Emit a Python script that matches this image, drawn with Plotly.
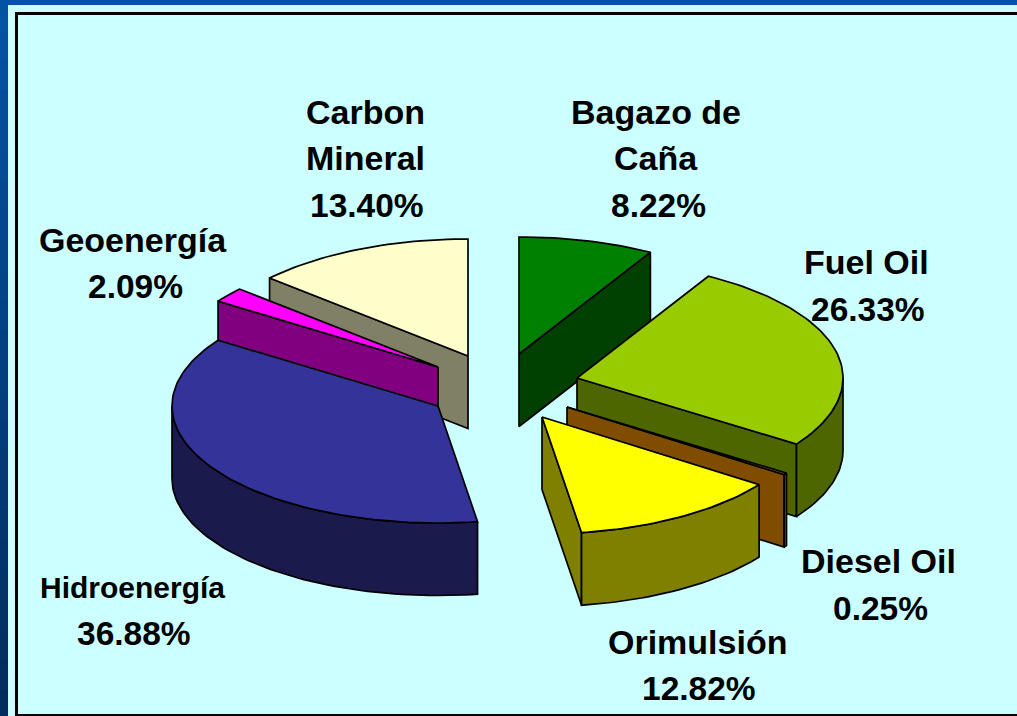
import math
import plotly.graph_objects as go

# ---- data ----
categories = ["Bagazo de Caña", "Fuel Oil", "Diesel Oil", "Orimulsión",
              "Hidroenergía", "Geoenergía", "Carbon Mineral"]
shares = [8.22, 26.33, 0.25, 12.82, 36.88, 2.09, 13.40]

# ---- styling / layout (not data) ----
top_colors = ["#008000", "#99CC00", "#FF9900", "#FFFF00", "#333399", "#FF00FF", "#FFFFCC"]
wall_colors = ["#004000", "#4D6600", "#804D00", "#808000", "#1A1A4D", "#800080", "#808066"]
apex_x = [519, 577, 567, 542, 438, 438, 468]
apex_y = [354, 378, 407, 417, 406, 367, 356]
draw_order = [0, 6, 1, 5, 4, 2, 3]
RX, RY, DEPTH = 266, 117, 72.5
LINE_W = 1.7
NAME_SIZES = [34, 34, 34, 34, 30, 34, 34]
PCT_SIZE = 33.5

label_lines = [
    (["Bagazo de", "Caña"], [(656, 112), (656, 158)], (658, 205)),
    (["Fuel Oil"], [(866, 262)], (868, 309)),
    (["Diesel Oil"], [(878, 561)], (880, 608)),
    (["Orimulsión"], [(697, 642)], (699, 688)),
    (["Hidroenergía"], [(132, 587)], (134, 633)),
    (["Geoenergía"], [(133, 240)], (135, 286)),
    (["Carbon", "Mineral"], [(365, 112), (365, 158)], (367, 205)),
]

total = sum(shares)
edges = [0.0]
for v in shares:
    edges.append(edges[-1] + v / total * 360.0)


def arc(cx, cy, a0, a1, dz=0):
    n = max(2, int(abs(a1 - a0) / 1.5) + 2)
    xs, ys = [], []
    for i in range(n):
        a = math.radians(a0 + (a1 - a0) * i / (n - 1))
        xs.append(cx + RX * math.sin(a))
        ys.append(cy - RY * math.cos(a) + dz)
    return xs, ys


fig = go.Figure()


def poly(xs, ys, color):
    fig.add_trace(go.Scatter(
        x=xs + xs[:1], y=ys + ys[:1], mode="lines", fill="toself",
        fillcolor=color, line=dict(color="#000000", width=LINE_W),
        hoverinfo="skip", showlegend=False))


def cut_wall(cx, cy, a, color):
    ex, ey = arc(cx, cy, a, a)
    poly([cx, ex[0], ex[0], cx], [cy, ey[0], ey[0] + DEPTH, cy + DEPTH], color)


for i in draw_order:
    cx, cy = apex_x[i], apex_y[i]
    a0, a1 = edges[i], edges[i + 1]
    # cut faces that look towards the viewer
    if math.cos(math.radians(a0 - 90)) < -1e-6:
        cut_wall(cx, cy, a0, wall_colors[i])
    if math.cos(math.radians(a1 + 90)) < -1e-6:
        cut_wall(cx, cy, a1, wall_colors[i])
    # rim
    w0, w1 = max(a0, 90), min(a1, 270)
    if w1 > w0:
        xs, ys = arc(cx, cy, w0, w1)
        xb, yb = arc(cx, cy, w0, w1, DEPTH)
        poly(xs + xb[::-1], ys + yb[::-1], wall_colors[i])
    # top
    xs, ys = arc(cx, cy, a0, a1)
    poly([cx] + xs, [cy] + ys, top_colors[i])

# labels
for i, (lines, pos, pct) in enumerate(label_lines):
    items = [(t, p, NAME_SIZES[i]) for t, p in zip(lines, pos)] + [(f"{shares[i]:.2f}%", pct, PCT_SIZE)]
    for txt, (x, y), size in items:
        fig.add_annotation(x=x, y=y, text=f"<b>{txt}</b>", showarrow=False,
                           xanchor="center", yanchor="middle",
                           font=dict(family="Liberation Sans", size=size, color="#000000"))

# slide background
shapes = [
    dict(type="rect", x0=0, x1=1017, y0=0, y1=716, fillcolor="#CCFFFF", line_width=0, layer="below"),
    dict(type="rect", x0=0, x1=1017, y0=0, y1=5, fillcolor="#0352A3", line_width=0, layer="below"),
]
n_bands = 24
c0, c1 = (3, 83, 164), (3, 44, 92)
for k in range(n_bands):
    t = k / (n_bands - 1)
    col = "rgb(%d,%d,%d)" % tuple(round(c0[j] + (c1[j] - c0[j]) * t) for j in range(3))
    shapes.append(dict(type="rect", x0=0, x1=8, y0=30 * k, y1=716,
                       fillcolor=col, line_width=0, layer="below"))
for s in [(15, 18, 12, 716), (15, 1017, 12, 15), (15, 1017, 714, 716)]:
    shapes.append(dict(type="rect", x0=s[0], x1=s[1], y0=s[2], y1=s[3],
                       fillcolor="#000000", line_width=0, layer="below"))

fig.update_layout(
    width=1017, height=716, margin=dict(l=0, r=0, t=0, b=0),
    paper_bgcolor="#CCFFFF", plot_bgcolor="#CCFFFF",
    xaxis=dict(range=[0, 1017], visible=False, fixedrange=True),
    yaxis=dict(range=[716, 0], visible=False, fixedrange=True),
    shapes=shapes, showlegend=False,
)

fig.write_html(
    "out.html",
    config={"displayModeBar": False},
    post_script="document.body.style.margin='0';document.body.style.overflow='hidden';",
)
